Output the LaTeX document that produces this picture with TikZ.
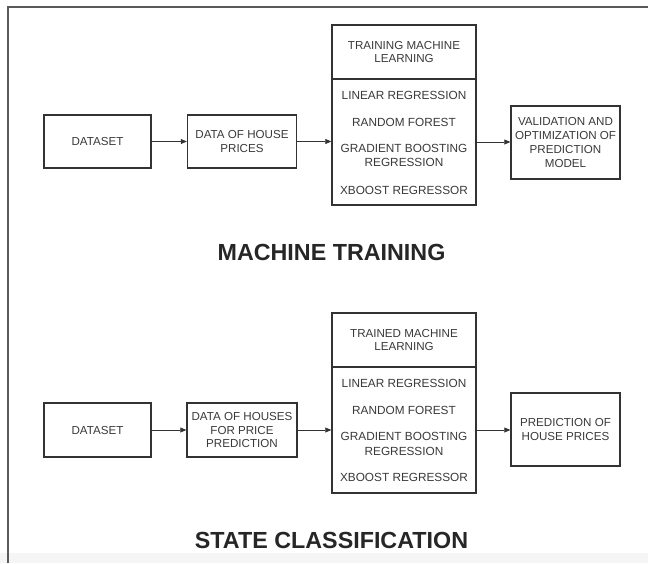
\documentclass[tikz,border=0pt]{standalone}
\usepackage{fontspec}
\setmainfont{Liberation Sans}
\usetikzlibrary{arrows.meta}
\definecolor{boxline}{HTML}{333333}
\definecolor{txt}{HTML}{3A3A3A}
\definecolor{framecol}{HTML}{5A5A5A}
\begin{document}
\begin{tikzpicture}[x=1pt,y=-1pt,
  box/.style={draw=boxline,line width=1.4pt,inner sep=0pt,text=txt,align=center,
    font=\fontsize{11.6}{13.8}\selectfont},
  item/.style={text=txt,align=center,inner sep=0pt,font=\fontsize{11.8}{14.5}\selectfont},
  title/.style={text=black!85,font=\fontsize{23.3}{25}\selectfont\bfseries,inner sep=0pt},
  conn/.style={draw=black!80,line width=0.6pt,-{Triangle[length=6pt,width=5pt]}}]
\useasboundingbox (0,0) rectangle (648,563);
\fill[white] (0,0) rectangle (648,563);
\fill[black!4] (0,553) rectangle (648,563);
\draw[framecol,line width=2pt] (7.5,563) -- (7.5,7) -- (648,7);

% ---------- top ----------
\node[box,minimum width=107pt,minimum height=53pt] (ds1) at (97.5,141.5) {DATASET};
\node[box,minimum width=109pt,minimum height=53pt] (dh1) at (242,141.5) {DATA OF HOUSE\\PRICES};
\node[box,minimum width=144pt,minimum height=54pt] (hd1) at (404,52) {TRAINING MACHINE\\LEARNING};
\node[box,minimum width=144pt,minimum height=126pt] (bd1) at (404,142) {};
\node[item] (l1) at (404,95) {LINEAR REGRESSION};
\node[item] (r1) at (404,122) {RANDOM FOREST};
\node[item] (g1) at (404,155.5) {GRADIENT BOOSTING\\REGRESSION};
\node[item] (x1) at (404,190) {XBOOST REGRESSOR};
\node[box,minimum width=109pt,minimum height=73pt] (vo1) at (565.5,142.5) {VALIDATION AND\\OPTIMIZATION OF\\PREDICTION\\MODEL};
\draw[conn] (ds1.east) -- (dh1.west);
\draw[conn] (dh1.east) -- (dh1.east -| bd1.west);
\draw[conn] (bd1.east) -- (bd1.east -| vo1.west);
\node[title] (t1) at (331.5,252) {MACHINE TRAINING};

% ---------- bottom ----------
\node[box,minimum width=107pt,minimum height=54pt] (ds2) at (97.5,430) {DATASET};
\node[box,minimum width=110pt,minimum height=54pt] (dh2) at (242,430) {DATA OF HOUSES\\FOR PRICE\\PREDICTION};
\node[box,minimum width=144pt,minimum height=54pt] (hd2) at (404,340) {TRAINED MACHINE\\LEARNING};
\node[box,minimum width=144pt,minimum height=126pt] (bd2) at (404,430) {};
\node[item] (l2) at (404,383) {LINEAR REGRESSION};
\node[item] (r2) at (404,410) {RANDOM FOREST};
\node[item] (g2) at (404,444) {GRADIENT BOOSTING\\REGRESSION};
\node[item] (x2) at (404,477) {XBOOST REGRESSOR};
\node[box,minimum width=109pt,minimum height=73pt] (ph2) at (565.5,429.5) {PREDICTION OF\\HOUSE PRICES};
\draw[conn] (ds2.east) -- (dh2.west);
\draw[conn] (dh2.east) -- (dh2.east -| bd2.west);
\draw[conn] (bd2.east) -- (bd2.east -| ph2.west);
\node[title] (t2) at (331.5,540) {STATE CLASSIFICATION};
\end{tikzpicture}
\end{document}
